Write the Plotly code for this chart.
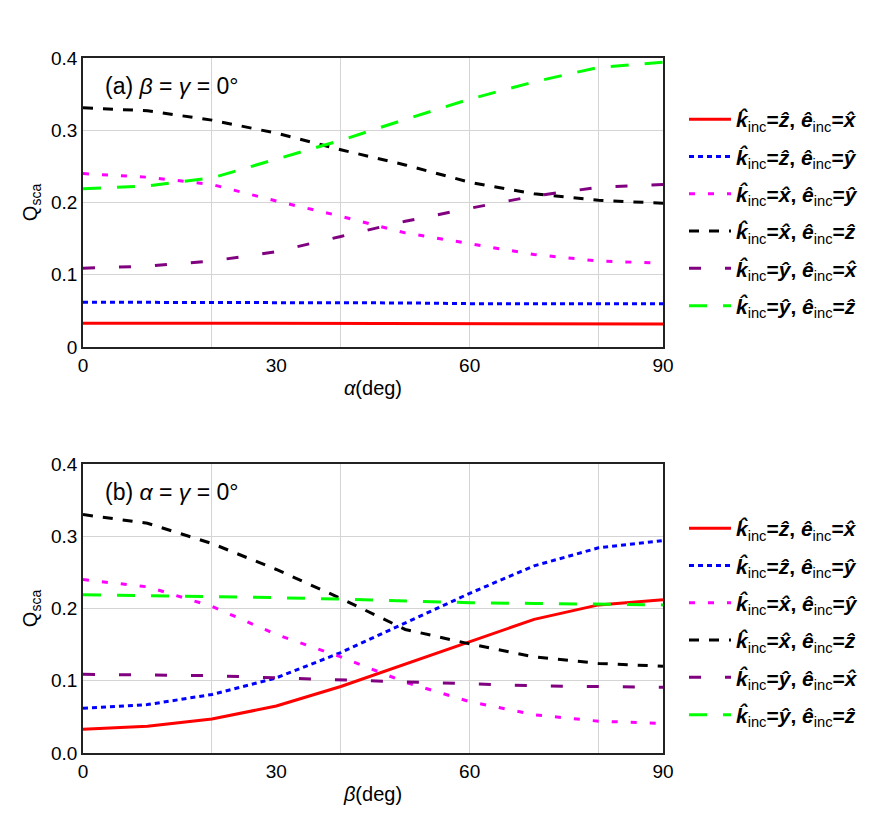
import plotly.graph_objects as go

angles = [0, 10, 20, 30, 40, 50, 60, 70, 80, 90]

# Panel (a): vs alpha (beta = gamma = 0)
a_z_x = [0.033, 0.033, 0.033, 0.033, 0.033, 0.033, 0.032, 0.032, 0.032, 0.032]
a_z_y = [0.062, 0.062, 0.062, 0.061, 0.061, 0.061, 0.060, 0.060, 0.060, 0.060]
a_x_y = [0.240, 0.235, 0.225, 0.202, 0.181, 0.158, 0.143, 0.128, 0.119, 0.116]
a_x_z = [0.331, 0.327, 0.314, 0.296, 0.273, 0.252, 0.228, 0.212, 0.203, 0.199]
a_y_x = [0.109, 0.112, 0.119, 0.132, 0.153, 0.174, 0.192, 0.209, 0.221, 0.225]
a_y_z = [0.219, 0.223, 0.234, 0.260, 0.286, 0.315, 0.343, 0.367, 0.387, 0.394]

# Panel (b): vs beta (alpha = gamma = 0)
b_z_x = [0.033, 0.037, 0.047, 0.065, 0.092, 0.123, 0.155, 0.185, 0.205, 0.212]
b_z_y = [0.062, 0.067, 0.081, 0.104, 0.139, 0.180, 0.221, 0.259, 0.284, 0.294]
b_x_y = [0.240, 0.230, 0.203, 0.164, 0.133, 0.098, 0.071, 0.053, 0.044, 0.041]
b_x_z = [0.330, 0.318, 0.290, 0.254, 0.214, 0.171, 0.151, 0.133, 0.124, 0.120]
b_y_x = [0.109, 0.108, 0.107, 0.104, 0.101, 0.098, 0.095, 0.093, 0.092, 0.091]
b_y_z = [0.219, 0.218, 0.217, 0.215, 0.213, 0.210, 0.208, 0.207, 0.206, 0.205]

def lab(k, e):
    return (f"<b><i>k̂</i></b><sub>inc</sub><b>=<i>{k}</i>, <i>ê</i></b>"
            f"<sub>inc</sub><b>=<i>{e}</i></b>")

labels = [
    lab("ẑ", "x̂"),
    lab("ẑ", "ŷ"),
    lab("x̂", "ŷ"),
    lab("x̂", "ẑ"),
    lab("ŷ", "x̂"),
    lab("ŷ", "ẑ"),
]
colors = ["#ff0000", "#0000ff", "#ff00ff", "#000000", "#800080", "#00ff00"]
dashes = ["solid", "5px,4px", "6px,13px", "10px,10px", "12px,24px", "18px,16px"]

FONT = "Liberation Sans, Arial, sans-serif"
W, H = 889, 825

fig = go.Figure()

panels = [
    ([a_z_x, a_z_y, a_x_y, a_x_z, a_y_x, a_y_z], "x", "y", "legend"),
    ([b_z_x, b_z_y, b_x_y, b_x_z, b_y_x, b_y_z], "x2", "y2", "legend2"),
]
for series, xa, ya, lg in panels:
    for i, vals in enumerate(series):
        fig.add_trace(go.Scatter(
            x=angles, y=vals, mode="lines", name=labels[i],
            line=dict(color=colors[i], width=3, dash=dashes[i]),
            xaxis=xa, yaxis=ya, legend=lg, legendgroup=f"{lg}{i}",
        ))

xl, xr = 83 / W, 663 / W
ya_dom = [1 - 347 / H, 1 - 58 / H]
yb_dom = [1 - 753 / H, 1 - 464 / H]

axis_common = dict(
    showline=True, mirror=True, linecolor="#222222", linewidth=1.5,
    ticks="", zeroline=False, automargin=False,
    tickfont=dict(family=FONT, size=19, color="black"),
)
grid = dict(gridcolor="#d4d4d4", gridwidth=1)
title_font = dict(family=FONT, size=20, color="black")

fig.update_layout(
    width=W, height=H,
    margin=dict(l=0, r=0, t=0, b=0, autoexpand=False),
    paper_bgcolor="white", plot_bgcolor="white",
    font=dict(family=FONT, size=19, color="black"),
    xaxis=dict(domain=[xl, xr], anchor="y", range=[0, 90],
               tickvals=[0, 30, 60, 90], showgrid=False,
               minor=dict(dtick=20, tick0=0, showgrid=True, **grid),
               title=dict(text="<i>α</i>(deg)", font=title_font, standoff=6),
               **axis_common),
    yaxis=dict(domain=ya_dom, anchor="x", range=[0, 0.4],
               tickvals=[0, 0.1, 0.2, 0.3, 0.4], ticktext=["0", "0.1", "0.2", "0.3", "0.4"],
               showgrid=True, **grid,
               title=dict(text="Q<sub>sca</sub>", font=title_font, standoff=8),
               **axis_common),
    xaxis2=dict(domain=[xl, xr], anchor="y2", range=[0, 90],
                tickvals=[0, 30, 60, 90], showgrid=False,
                minor=dict(dtick=20, tick0=0, showgrid=True, **grid),
                title=dict(text="<i>β</i>(deg)", font=title_font, standoff=6),
                **axis_common),
    yaxis2=dict(domain=yb_dom, anchor="x2", range=[0, 0.4],
                tickvals=[0, 0.1, 0.2, 0.3, 0.4], ticktext=["0.0", "0.1", "0.2", "0.3", "0.4"],
                showgrid=True, **grid,
                title=dict(text="Q<sub>sca</sub>", font=title_font, standoff=8),
                **axis_common),
    legend=dict(x=684 / W, y=1 - 99 / H, xanchor="left", yanchor="top",
                font=dict(family=FONT, size=21), tracegroupgap=7, itemwidth=42,
                bgcolor="rgba(0,0,0,0)"),
    legend2=dict(x=684 / W, y=1 - 508 / H, xanchor="left", yanchor="top",
                 font=dict(family=FONT, size=21), tracegroupgap=7, itemwidth=42,
                 bgcolor="rgba(0,0,0,0)"),
    showlegend=True,
    annotations=[
        dict(text="(a) <i>β</i> = <i>γ</i> = 0°", x=xl + 20 / W, y=1 - 86 / H,
             xref="paper", yref="paper", xanchor="left", yanchor="middle",
             showarrow=False, font=dict(family=FONT, size=23)),
        dict(text="(b) <i>α</i> = <i>γ</i> = 0°", x=xl + 20 / W, y=1 - 492 / H,
             xref="paper", yref="paper", xanchor="left", yanchor="middle",
             showarrow=False, font=dict(family=FONT, size=23)),
    ],
)

fig.write_html("out.html")
